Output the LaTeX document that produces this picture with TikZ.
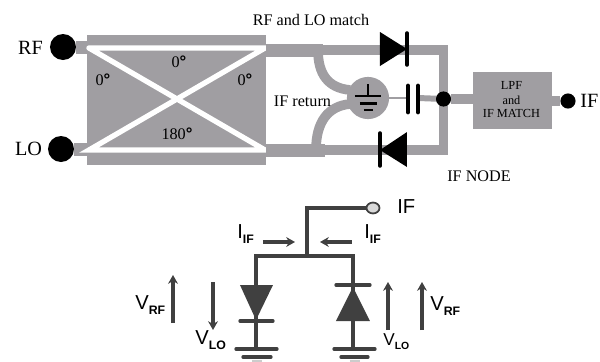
\documentclass[tikz,border=0pt]{standalone}
\usepackage{fontspec}
\setmainfont{Liberation Serif}
\setsansfont{Liberation Sans}
\usetikzlibrary{arrows.meta, shapes.geometric}
\definecolor{boxgray}{HTML}{A09EA2}
\definecolor{wiredark}{HTML}{404040}
\newcommand{\lblsub}[2]{\sffamily\fontsize{11.5}{12}\selectfont #1\raisebox{-0.45ex}{\fontsize{7}{7}\selectfont\bfseries #2}}
\newcommand{\degmark}{{\sffamily\bfseries\fontsize{9.5}{10}\selectfont °}}
\tikzset{
  graybox/.style={fill=boxgray, inner sep=0pt, outer sep=0pt},
  graywire/.style={boxgray, line width=5.5pt},
  feedwire/.style={boxgray, line width=7.4pt},
  whiteline/.style={white, line width=3pt, line cap=round},
  blackdot/.style={circle, fill=black, inner sep=0pt, outer sep=0pt},
  diodebar/.style={line width=2pt, line cap=round},
  darkwire/.style={wiredark, line width=1.9pt},
  darkarrow/.style={wiredark, -{Stealth[length=5pt,width=5.6pt]}, line width=2pt},
  serif/.style={inner sep=0pt, font=\fontsize{9.2}{10}\selectfont},
  big/.style={inner sep=0pt, font=\fontsize{11.5}{12}\selectfont},
  sanslabel/.style={inner sep=0pt, anchor=west}
}
\begin{document}
\begin{tikzpicture}[x=0.02cm, y=-0.02cm]
  \useasboundingbox (0,0) rectangle (600,362);

  % --- ports ---
  \node[blackdot, minimum size=14.8pt] (rfdot) at (63,47) {};
  \node[blackdot, minimum size=14.8pt] (lodot) at (61,149) {};
  \node[big] (rflabel) at (30.5,48) {RF};
  \node[big] (lolabel) at (28.5,149) {LO};

  % --- hybrid ---
  \node[graybox, minimum width=101.5pt, minimum height=73.7pt] (hybrid) at (176.5,100) {};
  \coordinate (hyba) at (89,48);
  \coordinate (hybb) at (265,48);
  \coordinate (hybc) at (89,150);
  \coordinate (hybd) at (265,150);
  \draw[feedwire] (rfdot) -- (hybrid.west |- rfdot);
  \draw[feedwire] (lodot) -- (hybrid.west |- lodot);
  \draw[whiteline] (hyba) -- (hybb) -- (hybc) -- (hybd) -- (hyba);
  \node[serif] (ang1) at (179,62) {0\degmark};
  \node[serif] (ang2) at (103,80) {0\degmark};
  \node[serif] (ang3) at (245,80) {0\degmark};
  \node[serif] (ang4) at (177,134) {180\degmark};

  % --- ring of wires to the IF node ---
  \coordinate (topl) at (266,50);
  \coordinate (topm) at (323,50);
  \coordinate (topr) at (443.5,50);
  \coordinate (botl) at (266,150);
  \coordinate (botm) at (325,150);
  \coordinate (botr) at (443.5,150);
  \draw[graywire, line cap=rect] (topm) -- (topr) -- (botr) -- (botm);
  \draw[feedwire] (topl) -- (topm);
  \draw[feedwire] (botl) -- (botm);
  \node[blackdot, minimum size=8.6pt] (ifnode) at (443.5,99) {};

  % --- IF return ---
  \node[circle, fill=boxgray, inner sep=0pt, minimum size=24pt] (gndball) at (368,98) {};
  \coordinate (stuba) at (318,50);
  \coordinate (stubb) at (316,150);
  \draw[graywire] (stuba) .. controls (318,74) and (328,88) .. (350,90);
  \draw[graywire] (stubb) .. controls (316,122) and (328,106) .. (350,104);
  \node[serif] (iflabel) at (302.5,101) {IF return};
  \node[serif] (matchlabel) at (311,20) {RF and LO match};
  \node[serif] (nodelabel) at (479,176) {IF NODE};

  % --- ground in the ball ---
  \coordinate (gtop) at (368,84);
  \coordinate (gmid) at (368,96);
  \draw[line width=1.2pt] (gtop) -- (gmid);
  \draw[line width=1.2pt] (355,96) -- (381,96);
  \draw[line width=1.2pt] (360,103.5) -- (377,103.5);
  \draw[line width=1.2pt] (364,110) -- (373,110);

  % --- capacitor ---
  \coordinate (capa) at (408,98);
  \coordinate (capb) at (418,98);
  \draw[boxgray, line width=1.2pt] (gndball) -- (capa);
  \draw[boxgray, line width=3.4pt] (capb) -- (ifnode);
  \draw[line width=2.8pt, line cap=round] (408,86) -- (408,112);
  \draw[line width=2.8pt, line cap=round] (418,86) -- (418,112);

  % --- diodes ---
  \fill (380,32) -- (407,49) -- (380,66) -- cycle;
  \draw[diodebar] (407,33) -- (407,65);
  \fill (407,132) -- (380,150) -- (407,167) -- cycle;
  \draw[diodebar] (380,133) -- (380,166);

  % --- LPF ---
  \node[graybox, minimum width=45pt, minimum height=32.5pt] (lpf) at (512.5,100.5) {};
  \node[blackdot, minimum size=8.6pt] (ifdot) at (568,101) {};
  \draw[graywire] (ifnode) -- (lpf.west |- ifnode);
  \draw[graywire] (lpf.east |- ifdot) -- (ifdot);
  \node[inner sep=0pt, font=\fontsize{7}{7}\selectfont] (lpfa) at (511.5,85.5) {LPF};
  \node[inner sep=0pt, font=\fontsize{7}{7}\selectfont] (lpfb) at (511.5,100) {and};
  \node[inner sep=0pt, font=\fontsize{7}{7}\selectfont] (lpfc) at (511.5,113) {IF MATCH};
  \node[big, anchor=west] (ifout) at (580,101) {IF};

  % --- lower circuit ---
  \node[ellipse, draw=wiredark, fill=gray!30, line width=1pt, inner sep=0pt, minimum width=7.4pt, minimum height=6.2pt] (ifterm) at (373,208) {};
  \coordinate (ifbend) at (307,208);
  \coordinate (ifjoin) at (307,256);
  \coordinate (lefttop) at (256,256);
  \coordinate (righttop) at (353,256);
  \coordinate (leftgnd) at (256,349);
  \coordinate (rightgnd) at (353,349);
  \draw[darkwire] (ifterm) -- (ifbend) -- (ifjoin);
  \draw[darkwire] (leftgnd) -- (lefttop) -- (righttop) -- (rightgnd);
  \node[sanslabel, font=\sffamily\fontsize{11.5}{12}\selectfont] (ifbottom) at (397,207) {IF};

  % --- lower diodes ---
  \fill[wiredark] (240,285) -- (273,285) -- (256,320) -- cycle;
  \draw[darkwire, line cap=round] (240,321) -- (273,321);
  \fill[wiredark] (336,321) -- (370,321) -- (353,287) -- cycle;
  \draw[darkwire, line cap=round] (336,285) -- (370,285);

  % --- grounds ---
  \draw[darkwire, line cap=round] (236,349) -- (277,349);
  \draw[darkwire, line cap=round] (243,357) -- (271,357);
  \draw[gray!40, line width=1pt] (252,361) -- (262,361);
  \draw[darkwire, line cap=round] (334,349) -- (375,349);
  \draw[darkwire, line cap=round] (341,357) -- (368,357);
  \draw[gray!40, line width=1pt] (350,361) -- (360,361);

  % --- arrows and labels ---
  \draw[darkarrow] (263,242) -- (295,242);
  \draw[darkarrow] (352,242) -- (320,242);
  \draw[darkarrow] (173,323) -- (173,275);
  \draw[darkarrow] (213,282) -- (213,330);
  \draw[darkarrow] (388,330) -- (388,282);
  \draw[darkarrow] (422,330) -- (422,282);
  \node[sanslabel] (iifa) at (237,234) {\lblsub{I}{IF}};
  \node[sanslabel] (iifb) at (364,234) {\lblsub{I}{IF}};
  \node[sanslabel] (vrfa) at (135,305) {\lblsub{V}{RF}};
  \node[sanslabel] (vloa) at (195,340) {\lblsub{V}{LO}};
  \node[sanslabel, scale=0.85] (vlob) at (383,342) {\lblsub{V}{LO}};
  \node[sanslabel] (vrfb) at (430,306) {\lblsub{V}{RF}};

\end{tikzpicture}
\end{document}
